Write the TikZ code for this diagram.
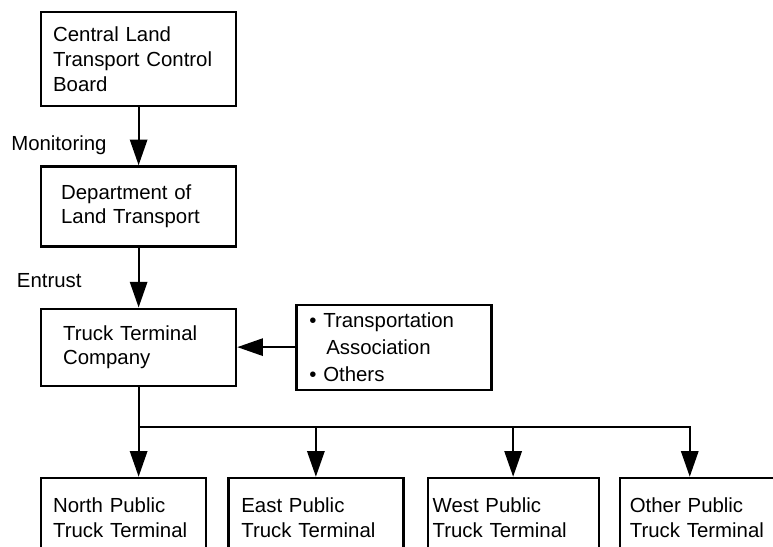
\documentclass[tikz,border=0pt]{standalone}
\usepackage{fontspec}
\setmainfont{Liberation Sans}
\usepackage{tikz}
\usetikzlibrary{arrows.meta, positioning, calc}

\begin{document}
\begin{tikzpicture}[
    node distance=1.45cm,
    box/.style={draw, line width=1.6pt, align=left, font=\fontsize{14.5}{17.5}\selectfont, inner xsep=0pt, inner ysep=2pt, minimum width=4.875cm},
    lbl/.style={font=\fontsize{14.5}{17.5}\selectfont, inner sep=0pt},
    arr/.style={-{Triangle[length=6.4mm, width=4.3mm]}, line width=1.6pt, line join=miter}]
  \useasboundingbox (0,0) rectangle (19.325,-13.65);
  % control chain
  \node[box, text width=4.275cm, minimum height=2.35cm, anchor=north west] (board) at (1.0,-0.275) {Central Land\\Transport Control\\Board};
  \node[box, text width=3.875cm, minimum height=2cm, below=of board] (dlt) {Department of\\Land Transport};
  \node[box, text width=3.775cm, minimum height=1.925cm, below=1.5cm of dlt] (ttc) {Truck Terminal\\Company};
  \node[box, text width=4.225cm, minimum height=2.125cm, font=\fontsize{14.5}{19}\selectfont, right=of ttc] (assoc) {\textbullet{} Transportation\\\hspace*{4.25mm}Association\\\textbullet{} Others};
  % terminals
  \node[box, text width=3.525cm, minimum width=4.125cm, minimum height=2cm, below=2.25cm of ttc.south west, anchor=north west] (north) {North Public\\Truck Terminal};
  \node[box, text width=3.725cm, minimum width=4.375cm, minimum height=2cm, right=0.5cm of north] (east) {East Public\\Truck Terminal};
  \node[box, text width=4.025cm, minimum width=4.275cm, minimum height=2cm, right=0.55cm of east] (west) {West Public\\Truck Terminal};
  \node[box, text width=3.8cm, minimum width=4.3cm, minimum height=2cm, right=0.475cm of west] (other) {Other Public\\Truck Terminal};
  \draw[arr] (board) -- node[lbl, pos=0.655, left=0.775cm] {Monitoring} (dlt);
  \draw[arr] (dlt) -- node[lbl, pos=0.55, left=1.4cm] {Entrust} (ttc);
  \draw[arr] (assoc) -- (ttc);
  \draw[arr] (ttc) -- (ttc |- north.north);
  \coordinate[below=1cm of ttc.south] (bus);
  \coordinate (otherin) at ([xshift=1.775cm]other.north west);
  \draw[arr] (bus) -| (otherin);
  \draw[arr] (bus -| east.north) -- (east.north);
  \draw[arr] (bus -| west.north) -- (west.north);
\end{tikzpicture}
\end{document}
